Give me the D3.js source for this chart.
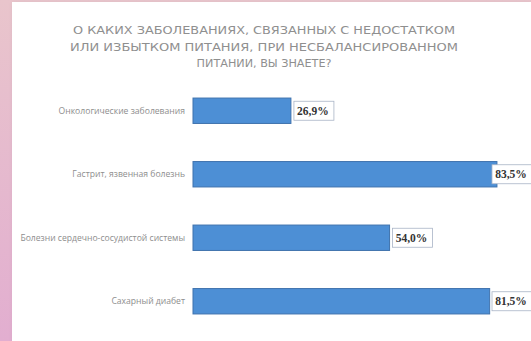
<!DOCTYPE html>
<html>
<head>
<meta charset="utf-8">
<script src="https://cdn.jsdelivr.net/npm/d3@7"></script>
<style>
  html, body { margin: 0; padding: 0; background: #ffffff; }
  svg { display: block; }
</style>
</head>
<body>
<svg id="chart" width="531" height="341"></svg>
<script>
// Survey question and answers
const titleLines = [
  "О КАКИХ ЗАБОЛЕВАНИЯХ, СВЯЗАННЫХ С НЕДОСТАТКОМ",
  "ИЛИ ИЗБЫТКОМ ПИТАНИЯ, ПРИ НЕСБАЛАНСИРОВАННОМ",
  "ПИТАНИИ, ВЫ ЗНАЕТЕ?"
];
const categories = [
  "Онкологические заболевания",
  "Гастрит, язвенная болезнь",
  "Болезни сердечно-сосудистой системы",
  "Сахарный диабет"
];
const values = [26.9, 83.5, 54.0, 81.5];

const W = 531, H = 341;
const svg = d3.select("#chart");
const defs = svg.append("defs");

// Pink side frame
const grad = defs.append("linearGradient")
  .attr("id", "frame").attr("x1", 0).attr("y1", 0).attr("x2", 0).attr("y2", 1);
grad.append("stop").attr("offset", "0%").attr("stop-color", "#e9c5cc");
grad.append("stop").attr("offset", "100%").attr("stop-color", "#e2aed0");
svg.append("rect").attr("width", W).attr("height", H).attr("fill", "url(#frame)");

const shadow = defs.append("filter").attr("id", "soft")
  .attr("x", "-5%").attr("y", "-5%").attr("width", "110%").attr("height", "110%");
shadow.append("feGaussianBlur").attr("in", "SourceAlpha").attr("stdDeviation", 2);
shadow.append("feOffset").attr("dx", 1).attr("dy", 1).attr("result", "b");
shadow.append("feFlood").attr("flood-color", "#000").attr("flood-opacity", 0.08);
shadow.append("feComposite").attr("in2", "b").attr("operator", "in");
const mg = shadow.append("feMerge");
mg.append("feMergeNode");
mg.append("feMergeNode").attr("in", "SourceGraphic");

// White panel
svg.append("rect")
  .attr("x", 12).attr("y", 2).attr("width", W - 12).attr("height", H - 2)
  .attr("fill", "#ffffff").attr("filter", "url(#soft)");

// Title: the two long lines are stretched to a common measure
const titleWidths = [382, 388, null];
svg.append("g")
  .selectAll("text")
  .data(titleLines)
  .join("text")
  .attr("x", 264)
  .attr("y", (d, i) => 34 + i * 16.5)
  .attr("text-anchor", "middle")
  .attr("font-family", "'DejaVu Sans', sans-serif")
  .attr("font-size", 11.2)
  .attr("fill", "#8f8f8f")
  .attr("textLength", (d, i) => titleWidths[i])
  .attr("lengthAdjust", (d, i) => titleWidths[i] ? "spacingAndGlyphs" : null)
  .text(d => d);

// Scales
const x = d3.scaleLinear().domain([0, 100]).range([193, 557]);
const y = d3.scaleBand()
  .domain(categories)
  .range([79, 333])
  .paddingInner(0.6)
  .paddingOuter(0.3);

const ru = d3.formatLocale({ decimal: ",", thousands: " ", grouping: [3], currency: ["", ""] });
const fmt = v => ru.format(".1f")(v) + "%";

// Category axis labels
const yAxis = d3.axisLeft(y).tickSize(0).tickPadding(8);
const ya = svg.append("g")
  .attr("transform", `translate(${x(0)},0)`)
  .call(yAxis);
ya.select(".domain").remove();
ya.selectAll("text")
  .attr("font-family", "'Open Sans', sans-serif")
  .attr("font-size", 8.6)
  .attr("fill", "#8e8e8e");

// Bars
svg.append("g")
  .selectAll("rect")
  .data(values)
  .join("rect")
  .attr("x", x(0))
  .attr("y", (d, i) => y(categories[i]))
  .attr("width", d => x(d) - x(0))
  .attr("height", y.bandwidth())
  .attr("fill", "#4d8fd5")
  .attr("stroke", "#3f72ad")
  .attr("stroke-width", 1);

// Value labels in boxes, kept inside the panel's right edge
const boxW = 40;
const lab = svg.append("g")
  .selectAll("g")
  .data(values)
  .join("g")
  .attr("transform", (d, i) =>
    `translate(${Math.min(x(d) + 3, 492)},${y(categories[i]) + y.bandwidth() / 2})`);
lab.append("rect")
  .attr("x", 0).attr("y", -9.5)
  .attr("width", boxW).attr("height", 19)
  .attr("fill", "#ffffff")
  .attr("stroke", "#a9b4c6")
  .attr("stroke-width", 0.8);
lab.append("text")
  .attr("x", 19).attr("y", 0)
  .attr("dy", "0.35em")
  .attr("text-anchor", "middle")
  .attr("font-family", "'Liberation Serif', serif")
  .attr("font-weight", "bold")
  .attr("font-size", 11.5)
  .attr("fill", "#333333")
  .text(d => fmt(d));
</script>
</body>
</html>
